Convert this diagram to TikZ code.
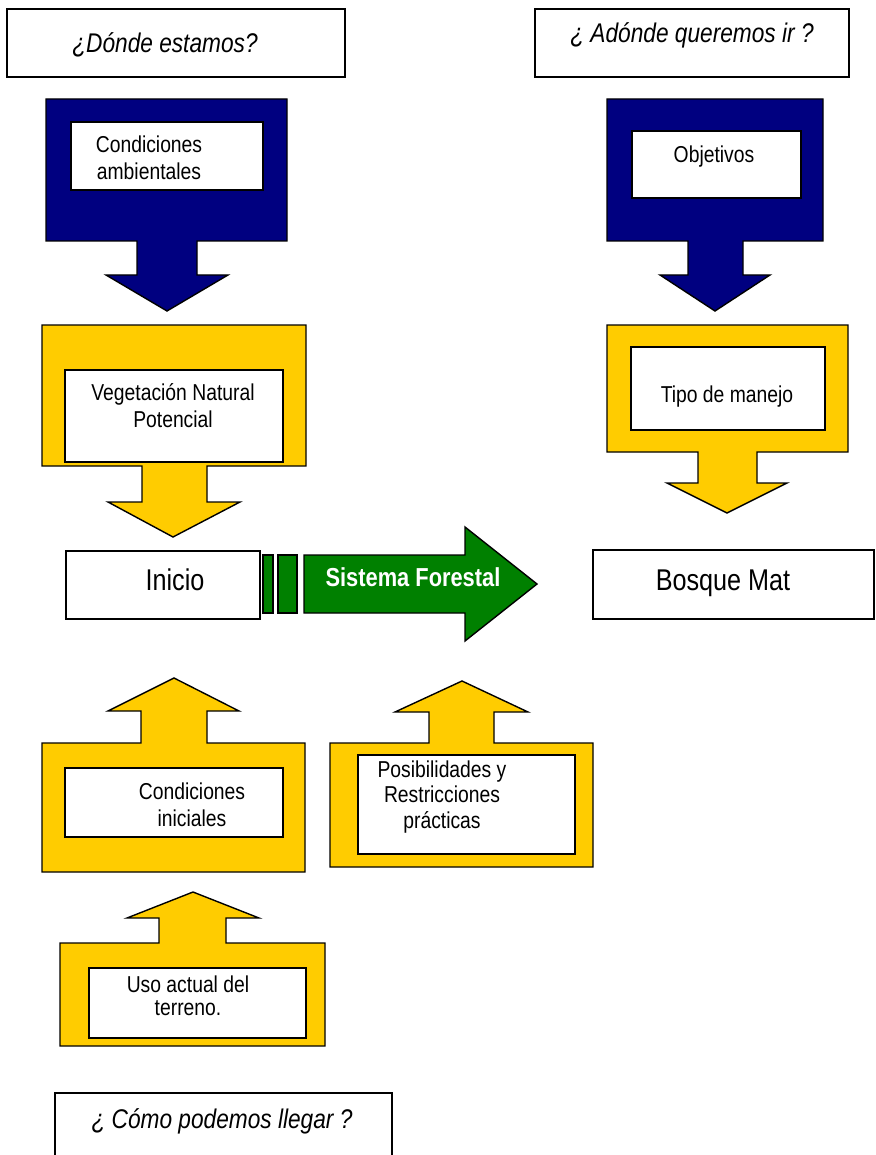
\documentclass[tikz,border=0pt]{standalone}
\usepackage{fontspec}
\setmainfont{Liberation Sans}[FakeStretch=0.84]
\definecolor{navyblue}{RGB}{0,0,128}
\definecolor{gold}{RGB}{255,204,0}
\definecolor{forestgreen}{RGB}{0,128,0}
\begin{document}
\begin{tikzpicture}[x=1pt,y=-1pt,line join=miter]
\tikzset{
  hdr/.style={draw=black,line width=1.6pt,fill=white},
  bluecall/.style={draw=black,line width=1.4pt,fill=navyblue},
  goldcall/.style={draw=black,line width=1.4pt,fill=gold},
  greenpart/.style={draw=black,line width=1.4pt,fill=forestgreen},
  inbox/.style={draw=black,line width=1.4pt,fill=white},
  lbl/.style={font=\fontsize{23}{27}\selectfont,align=center,inner sep=0pt},
  lblbase/.style={font=\fontsize{23}{27}\selectfont,anchor=base,inner sep=0pt},
  qtxt/.style={font=\fontsize{27}{32}\selectfont\itshape,anchor=base,inner sep=0pt},
  bigtxt/.style={font=\fontsize{30}{34}\selectfont,anchor=base,inner sep=0pt},
}
\useasboundingbox (0,0) rectangle (875,1155);

% header questions
\draw[hdr] (7,9) rectangle (345,77);
\node[qtxt] (q1) at (165,53) {¿Dónde estamos?};
\draw[hdr] (535,9) rectangle (849,77);
\node[qtxt] (q2) at (692,43) {¿ Adónde queremos ir ?};
\draw[hdr] (55,1160) -- (55,1093) -- (392,1093) -- (392,1160);
\node[qtxt] (q3) at (222,1128) {¿ Cómo podemos llegar ?};

% blue callouts
\draw[bluecall] (46,99) -- (287,99) -- (287,241) -- (197,241) -- (197,275) -- (228,275) -- (167,311) -- (106,275) -- (137,275) -- (137,241) -- (46,241) -- cycle;
\draw[inbox] (71,122) rectangle (263,190);
\node[lbl] (amb) at (149,158) {Condiciones\\ambientales};

\draw[bluecall] (607,99) -- (823,99) -- (823,241) -- (743,241) -- (743,275) -- (770,275) -- (715,311) -- (660,275) -- (688,275) -- (688,241) -- (607,241) -- cycle;
\draw[inbox] (632,131) rectangle (801,198);
\node[lblbase] (obj) at (714,163) {Objetivos};

% gold down callouts
\draw[goldcall] (42,325) -- (306,325) -- (306,466) -- (207,466) -- (207,502) -- (240,502) -- (173,537) -- (108,502) -- (142,502) -- (142,466) -- (42,466) -- cycle;
\draw[inbox] (65,370) rectangle (283,462);
\node[lbl] (veg) at (173,406) {Vegetación Natural\\Potencial};

\draw[goldcall] (607,325) -- (848,325) -- (848,452) -- (757,452) -- (757,483) -- (787,483) -- (727,513) -- (667,483) -- (698,483) -- (698,452) -- (607,452) -- cycle;
\draw[inbox] (631,347) rectangle (825,430);
\node[lblbase] (tipo) at (727,402) {Tipo de manejo};

% middle row
\draw[hdr,line width=1.4pt] (66,551) rectangle (260,619);
\node[bigtxt] (ini) at (175,590) {Inicio};
\draw[greenpart] (263,555) rectangle (273,613);
\draw[greenpart] (278,555) rectangle (297,613);
\draw[greenpart] (304,555) -- (465,555) -- (465,527) -- (537,584) -- (465,641) -- (465,613) -- (304,613) -- cycle;
\node[font=\fontsize{26}{30}\selectfont\bfseries,text=white,anchor=base,inner sep=0pt] (sf) at (413,586) {Sistema Forestal};
\draw[hdr,line width=1.4pt] (593,550) rectangle (874,619);
\node[bigtxt] (bm) at (723,590) {Bosque Mat};

% gold up callouts
\draw[goldcall] (42,872) -- (42,743) -- (141,743) -- (141,711) -- (108,711) -- (174,678) -- (239,711) -- (207,711) -- (207,743) -- (305,743) -- (305,872) -- cycle;
\draw[inbox] (65,768) rectangle (283,837);
\node[lbl] (ci) at (192,805) {Condiciones\\iniciales};

\draw[goldcall] (330,867) -- (330,743) -- (429,743) -- (429,712) -- (395,712) -- (462,681) -- (528,712) -- (494,712) -- (494,743) -- (593,743) -- (593,867) -- cycle;
\draw[inbox] (358,755) rectangle (575,854);
\node[lbl,font=\fontsize{23}{25.5}\selectfont] (pos) at (442,797) {Posibilidades y\\Restricciones\\prácticas};

\draw[goldcall] (60,1046) -- (60,943) -- (159,943) -- (159,918) -- (127,918) -- (193,892) -- (259,918) -- (226,918) -- (226,943) -- (325,943) -- (325,1046) -- cycle;
\draw[inbox] (89,968) rectangle (306,1038);
\node[lbl,font=\fontsize{23}{23}\selectfont] (uso) at (188,996) {Uso actual del\\terreno.};
\end{tikzpicture}
\end{document}
